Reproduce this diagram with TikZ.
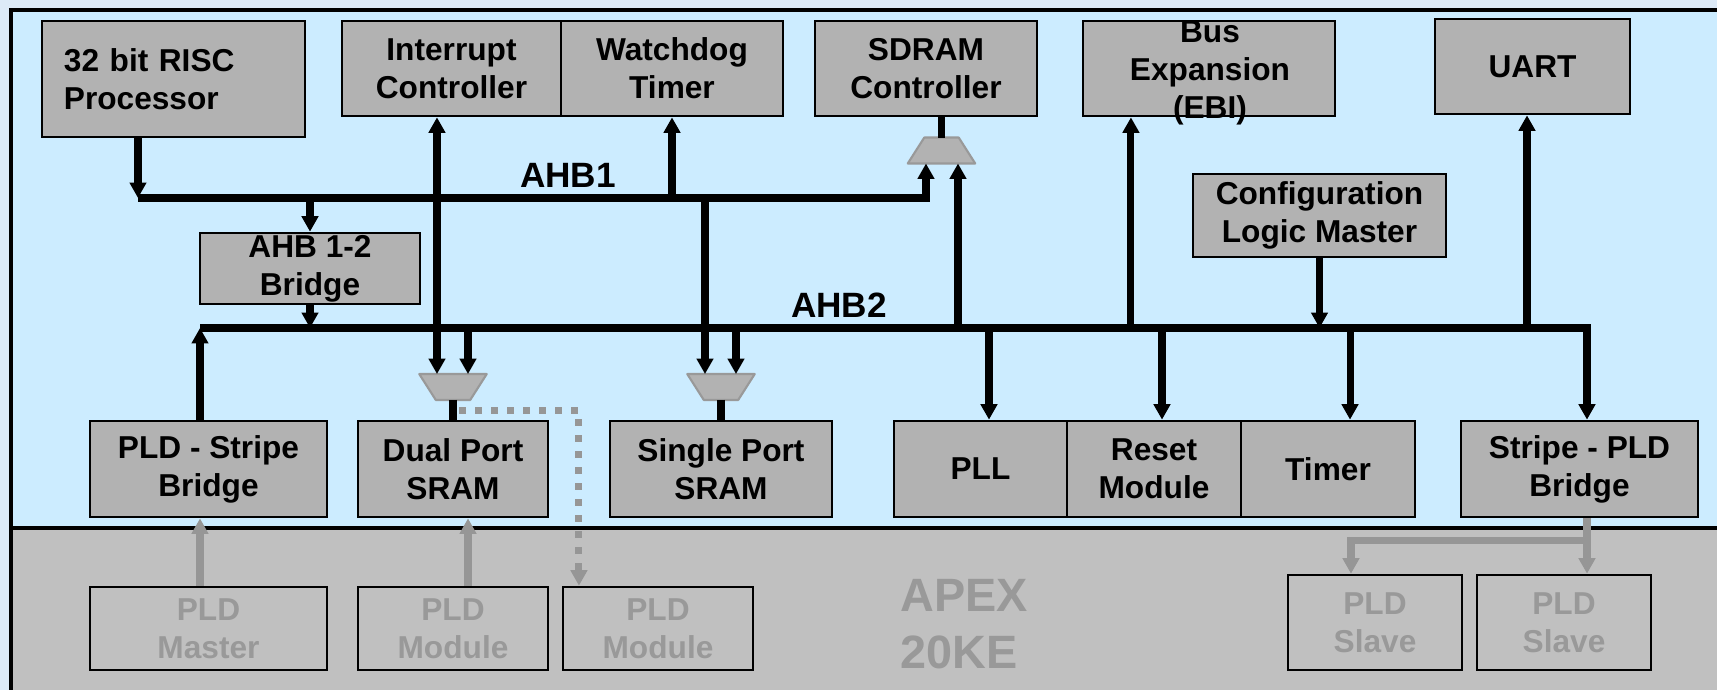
\documentclass[tikz,border=0pt]{standalone}
\usepackage{fontspec}
\setmainfont{Liberation Sans}
\usepackage{tikz}
\usetikzlibrary{arrows.meta}

\definecolor{outbg}{HTML}{DDEAF7}
\definecolor{bluebg}{HTML}{CCECFF}
\definecolor{graybg}{HTML}{C0C0C0}
\definecolor{boxgray}{HTML}{B2B2B2}
\definecolor{txtgray}{HTML}{999999}
\definecolor{arrgray}{HTML}{969696}

\newcommand{\boxfont}{\fontsize{9}{10.8}\selectfont\bfseries}
\newcommand{\busfont}{\fontsize{10}{12}\selectfont\bfseries}
\newcommand{\apexfont}{\fontsize{13.3}{16.2}\selectfont\bfseries}

\begin{document}
\begin{tikzpicture}[x=0.01cm, y=-0.01cm,
            >={Triangle[length=4.4pt,width=4.6pt]},
            blk/.style={draw, line width=0.75pt, fill=boxgray, font=\boxfont, align=center, inner sep=0pt},
            pld/.style={blk, fill=none, text=txtgray},
            mux/.style={minimum width=0.66cm, minimum height=0.245cm, inner sep=0pt},
            muxline/.style={draw=txtgray, fill=boxgray, line width=0.6pt, line join=round},
            wire/.style={line width=2pt},
            gwire/.style={line width=2pt, arrgray},
            gdot/.style={gwire, dash pattern=on 2pt off 2.55pt}]
        \useasboundingbox (0,0) rectangle (1717,690);
        \fill[outbg] (0,0) rectangle (1717,690);
        \fill[bluebg] (11,10) rectangle (1717,528);
        \fill[graybg] (11,528) rectangle (1717,690);
        \draw[line width=1.4pt] (1717,10) -- (11,10) -- (11,690);
        \draw[line width=1.3pt] (11,528) -- (1717,528);

        % stripe blocks
        \node[blk, minimum width=2.63cm, minimum height=1.16cm, text width=2.19cm, align=left] (cpu) at (173.5,79) {32 bit RISC\\Processor};
        \node[blk, minimum width=2.19cm, minimum height=0.95cm] (irq) at (451.5,68.5) {Interrupt\\Controller};
        \node[blk, minimum width=2.22cm, minimum height=0.95cm] (wdt) at (672,68.5) {Watchdog\\Timer};
        \node[blk, minimum width=2.22cm, minimum height=0.95cm] (sdram) at (926,68.5) {SDRAM\\Controller};
        \node[blk, minimum width=2.52cm, minimum height=0.95cm] (ebi) at (1209,68.5) {};
        \node[font=\boxfont, align=center, inner sep=0pt] (ebitxt) at (1210,73) {Bus\\Expansion\\(EBI)};
        \node[blk, minimum width=1.95cm, minimum height=0.95cm] (uart) at (1532.5,66.5) {UART};
        \node[blk, minimum width=2.53cm, minimum height=0.83cm] (cfg) at (1319.5,215.5) {Configuration\\Logic Master};
        \node[blk, minimum width=2.20cm, minimum height=0.71cm] (br12) at (310,268.5) {AHB 1-2\\Bridge};

        \node[blk, minimum width=2.37cm, minimum height=0.96cm] (pldsb) at (208.5,469) {PLD - Stripe\\Bridge};
        \node[blk, minimum width=1.90cm, minimum height=0.96cm] (dpram) at (453,469) {Dual Port\\SRAM};
        \node[blk, minimum width=2.22cm, minimum height=0.96cm] (spram) at (721,469) {Single Port\\SRAM};
        \node[blk, minimum width=1.73cm, minimum height=0.96cm] (pll) at (980.5,469) {PLL};
        \node[blk, minimum width=1.74cm, minimum height=0.96cm] (rst) at (1154,469) {Reset\\Module};
        \node[blk, minimum width=1.74cm, minimum height=0.96cm] (tmr) at (1328,469) {Timer};
        \node[blk, minimum width=2.37cm, minimum height=0.96cm] (sbpld) at (1579.5,469) {Stripe - PLD\\Bridge};

        % muxes
        \node[mux] (sdmux) at (941.5,150.5) {};
        \node[mux] (dpmux) at (453,387) {};
        \node[mux] (spmux) at (721,387) {};
        \draw[muxline] (sdmux.south west) -- (sdmux.south east) -- ([xshift=-0.165cm]sdmux.north east)
            -- ([xshift=0.165cm]sdmux.north west) -- cycle;
        \foreach \m in {dpmux,spmux}
            \draw[muxline] (\m.north west) -- (\m.north east) -- ([xshift=-0.165cm]\m.south east)
                -- ([xshift=0.165cm]\m.south west) -- cycle;

        % PLD side
        \node[pld, minimum width=2.37cm, minimum height=0.83cm] (pldm) at (208.5,628.5) {PLD\\Master};
        \node[pld, minimum width=1.90cm, minimum height=0.83cm] (mod1) at (453,628.5) {PLD\\Module};
        \node[pld, minimum width=1.90cm, minimum height=0.83cm] (mod2) at (658,628.5) {PLD\\Module};
        \node[pld, minimum width=1.74cm, minimum height=0.95cm] (slv1) at (1375,622.5) {PLD\\Slave};
        \node[pld, minimum width=1.74cm, minimum height=0.95cm] (slv2) at (1564,622.5) {PLD\\Slave};
        \node[font=\apexfont, text=txtgray, align=left, anchor=west, inner sep=0pt] (apex) at (900,624) {APEX\\20KE};

        % AHB1
        \coordinate (a1) at (138,198);
        \path (sdmux.south) ++(-0.155cm,0) coordinate (sda);
        \path (sdmux.south) ++(0.165cm,0) coordinate (sdb);
        \path (spmux.north) ++(-0.16cm,0) coordinate (spa);
        \path (spmux.north) ++(0.15cm,0) coordinate (spb);
        \draw[wire,->] (cpu.south -| a1) -- (a1);
        \draw[wire,->] (a1) -- (a1 -| sda) -- (sda);
        \draw[wire,->] (a1 -| br12.north) -- (br12.north);
        \draw[wire,->] (a1 -| wdt.south) -- (wdt.south);
        \draw[wire,->] (a1 -| spa) -- (spa);
        \draw[wire] (sdmux.north |- sdram.south) -- (sdmux.north);
        \node[font=\busfont] (ahb1) at (568,175) {AHB1};

        % AHB2
        \coordinate (a2) at (200,328);
        \coordinate (a2e) at (1587,328);
        \path (dpmux.north) ++(-0.16cm,0) coordinate (dpa);
        \path (dpmux.north) ++(0.15cm,0) coordinate (dpb);
        \draw[wire,->] (a2) -- (a2e) -- (a2e |- sbpld.north);
        \draw[wire,->] (pldsb.north -| a2) -- (a2);
        \draw[wire,->] (br12.south) -- (br12.south |- a2);
        \draw[wire,<->] (irq.south -| dpa) -- (dpa);
        \draw[wire,->] (a2 -| dpb) -- (dpb);
        \draw[wire,->] (a2 -| spb) -- (spb);
        \draw[wire,->] (a2 -| sdb) -- (sdb);
        \draw[wire] (dpmux.south) -- (dpram.north);
        \draw[wire] (spmux.south) -- (spram.north);
        \foreach \n/\dx in {pll/0.085cm, rst/0.08cm, tmr/0.22cm}{
            \path (\n.north) ++(\dx,0) coordinate (t);
            \draw[wire,->] (a2 -| t) -- (t);
        }
        \foreach \n/\dx in {ebi/-0.78cm, uart/-0.055cm}{
            \path (\n.south) ++(\dx,0) coordinate (t);
            \draw[wire,->] (a2 -| t) -- (t);
        }
        \draw[wire,->] (cfg.south) -- (cfg.south |- a2);
        \node[font=\busfont] (ahb2) at (839,305) {AHB2};

        % PLD links
        \path (pldsb.south) ++(-0.085cm,0) coordinate (g1);
        \path (dpram.south) ++(0.15cm,0) coordinate (g2);
        \path (dpmux.south) ++(0.06cm,-0.11cm) coordinate (g3);
        \path (mod2.north) ++(-0.79cm,0) coordinate (g4);
        \path (sbpld.south) ++(0.075cm,0) coordinate (g5);
        \path (g5) ++(0,-0.22cm) coordinate (g6);
        \path (slv1.north) ++(-0.24cm,0) coordinate (g7);
        \draw[gwire,->] (pldm.north -| g1) -- (g1);
        \draw[gwire,->] (mod1.north -| g2) -- (g2);
        \draw[gdot,->] (g3) -| (g4);
        \draw[gwire,->] (g5) -- (g5 |- slv2.north);
        \draw[gwire,->] (g6) -| (g7);
    \end{tikzpicture}
\end{document}
